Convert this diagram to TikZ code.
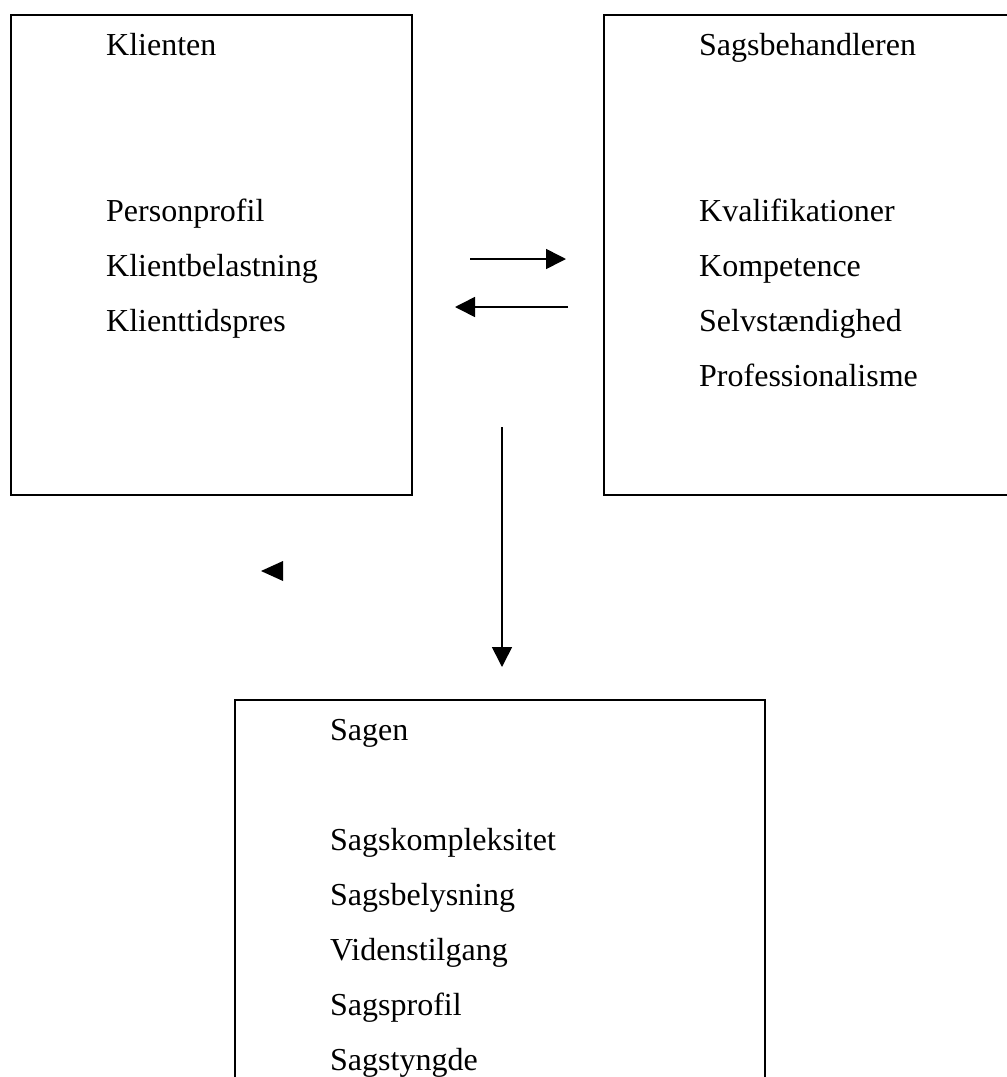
\documentclass[tikz,border=0pt]{standalone}
\usepackage{fontspec}
\setmainfont{Liberation Serif}
\usetikzlibrary{arrows.meta}
\begin{document}
\begin{tikzpicture}[x=1pt,y=-1pt,
  box/.style={draw, line width=2pt, inner sep=0pt, anchor=north west},
  lbl/.style={anchor=base west, inner sep=0pt, font=\fontsize{32pt}{38pt}\selectfont},
  conn/.style={line width=1.6pt, -{Triangle[length=20pt,width=20pt]}}]
\useasboundingbox (0,0) rectangle (1007,1077);
% boxes
\node[box, minimum width=401pt, minimum height=480pt] (klient) at (10,14) {};
\node[box, minimum width=420pt, minimum height=480pt] (sagsb) at (603,14) {};
\node[box, minimum width=530pt, minimum height=420pt] (sagen) at (234,699) {};
% texts box 1
\node[lbl] (t1) at (106,55) {Klienten};
\node[lbl] (t2) at (106,221) {Personprofil};
\node[lbl] (t3) at (106,276) {Klientbelastning};
\node[lbl] (t4) at (106,331) {Klienttidspres};
% texts box 2
\node[lbl] (u1) at (699,55) {Sagsbehandleren};
\node[lbl] (u2) at (699,221) {Kvalifikationer};
\node[lbl] (u3) at (699,276) {Kompetence};
\node[lbl] (u4) at (699,331) {Selvstændighed};
\node[lbl] (u5) at (699,386) {Professionalisme};
% texts box 3
\node[lbl] (v1) at (330,740) {Sagen};
\node[lbl] (v2) at (330,850) {Sagskompleksitet};
\node[lbl] (v3) at (330,905) {Sagsbelysning};
\node[lbl] (v4) at (330,960) {Videnstilgang};
\node[lbl] (v5) at (330,1015) {Sagsprofil};
\node[lbl] (v6) at (330,1070) {Sagstyngde};
% arrow end points
\coordinate (a1s) at (470,259);
\coordinate (a1e) at (566,259);
\coordinate (a2s) at (568,307);
\coordinate (a2e) at (455,307);
\coordinate (a3s) at (502,427);
\coordinate (a3e) at (502,667);
\draw[conn] (a1s) -- (a1e);
\draw[conn] (a2s) -- (a2e);
\draw[conn] (a3s) -- (a3e);
% stray arrowhead
\coordinate (tip) at (261,571);
\fill (tip) -- (283,561) -- (283,581) -- cycle;
\end{tikzpicture}
\end{document}
